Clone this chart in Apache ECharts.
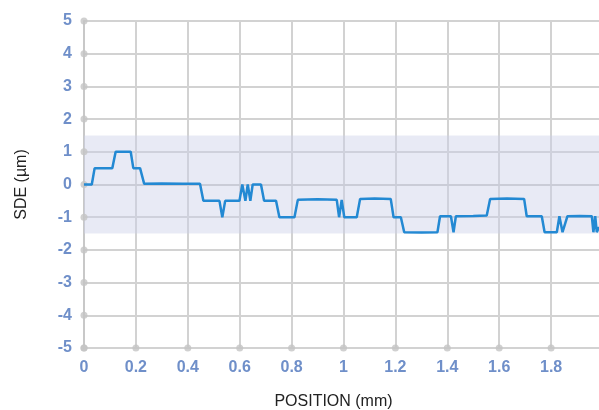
<!DOCTYPE html>
<html><head><meta charset="utf-8">
<script src="https://cdn.jsdelivr.net/npm/echarts@6/dist/echarts.min.js"></script>
<style>html,body{margin:0;padding:0;background:#fff}#c{width:599px;height:410px}</style>
</head><body><div id="c"></div>
<script>
const positions = [0.000,0.030,0.041,0.109,0.122,0.180,0.190,0.216,0.232,0.300,0.380,0.447,0.460,0.522,0.533,0.544,0.599,0.610,0.622,0.631,0.641,0.650,0.682,0.694,0.740,0.753,0.811,0.824,0.900,0.974,0.983,0.993,1.003,1.051,1.064,1.120,1.182,1.193,1.221,1.234,1.300,1.362,1.372,1.414,1.424,1.433,1.500,1.552,1.565,1.630,1.696,1.706,1.764,1.775,1.822,1.832,1.844,1.863,1.910,1.957,1.963,1.970,1.976,1.985];
const sde = [0,0,0.5,0.5,1.0,1.0,0.5,0.5,0.02,0.03,0.02,0.02,-0.5,-0.5,-1.0,-0.5,-0.5,0,-0.5,0,-0.5,0,0,-0.5,-0.5,-1.0,-1.0,-0.47,-0.45,-0.47,-1.0,-0.47,-1.0,-1.0,-0.44,-0.43,-0.44,-1.0,-1.0,-1.46,-1.47,-1.46,-0.97,-0.97,-1.46,-0.97,-0.96,-0.95,-0.44,-0.43,-0.44,-0.97,-0.97,-1.46,-1.46,-0.97,-1.46,-0.97,-0.96,-0.97,-1.46,-0.97,-1.46,-1.3];
const xTicks = [0,0.2,0.4,0.6,0.8,1.0,1.2,1.4,1.6,1.8,2.0];
const yTicks = [-5,-4,-3,-2,-1,0,1,2,3,4,5];
const bandLow = -1.5, bandHigh = 1.5;

const labelColor = '#6f8fc9';
const chart = echarts.init(document.getElementById('c'), null, {renderer:'canvas'});
const dots = xTicks.map(x=>[x,-5]).concat(yTicks.map(y=>[0,y]));
chart.setOption({
  animation:false,
  grid:{left:84, width:519, top:21, height:327, outerBoundsMode:'none', containLabel:false},
  xAxis:{type:'value', min:0, max:2, interval:0.2,
    name:'POSITION (mm)', nameLocation:'middle', nameGap:46,
    nameTextStyle:{color:'#222', fontSize:16, fontFamily:'Liberation Sans', padding:[0,20,0,0]},
    axisLine:{show:true, lineStyle:{color:'#c8c8c8', width:2}},
    axisTick:{show:false},
    axisLabel:{color:labelColor, fontWeight:'bold', fontSize:16, fontFamily:'Liberation Sans', margin:12,
      formatter:v=>String(+v.toFixed(1))},
    splitLine:{show:true, lineStyle:{color:'#d2d2d2', width:2}}},
  yAxis:{type:'value', min:-5, max:5, interval:1,
    name:'SDE (µm)', nameLocation:'middle', nameGap:54, nameRotate:90,
    nameTextStyle:{color:'#222', fontSize:16, fontFamily:'Liberation Sans'},
    axisLine:{show:true, lineStyle:{color:'#c8c8c8', width:2}},
    axisTick:{show:false},
    axisLabel:{color:labelColor, fontWeight:'bold', fontSize:16, fontFamily:'Liberation Sans', margin:12},
    splitLine:{show:true, lineStyle:{color:'#d2d2d2', width:2}}},
  series:[
    {type:'line', data:[], z:1, silent:true,
      markArea:{silent:true, itemStyle:{color:'rgba(204,208,233,0.45)'},
        data:[[{yAxis:bandLow},{yAxis:bandHigh}]]}},
    {type:'scatter', data:dots, symbolSize:7, z:3, silent:true,
      itemStyle:{color:'#c4c4c4'}},
    {type:'line', data:positions.map((x,i)=>[x,sde[i]]), z:5, showSymbol:false,
      lineStyle:{color:'#2389d3', width:2.5}, itemStyle:{color:'#2389d3'}}
  ]
});
</script></body></html>
